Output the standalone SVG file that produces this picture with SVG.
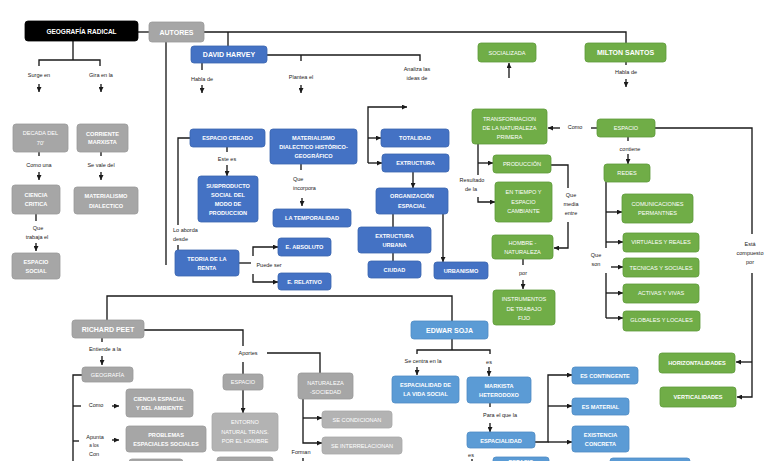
<svg xmlns="http://www.w3.org/2000/svg" width="768" height="461" viewBox="0 0 768 461">
<defs>
<style>
rect{rx:3px;ry:3px;stroke-width:0.8}
.blk rect{fill:#000;stroke:#000}
.gry rect{fill:#A6A6A6;stroke:#9A9A9A}
.gryl rect{fill:#B3B3B3;stroke:#A8A8A8}
.blu rect{fill:#4472C4;stroke:#3A64AE}
.sky rect{fill:#5B9BD5;stroke:#4F8BC4}
.grn rect{fill:#70AD47;stroke:#5E9A3A}
text{font-family:"Liberation Sans",Arial,sans-serif;text-anchor:middle;dominant-baseline:central}
.n text{font-size:5.6px;font-weight:bold;fill:#fff}
.n text.rg{font-weight:normal}
.n text.h{font-size:7px}
.n text.g{font-size:6.5px}
.lbl text{font-size:5.5px;fill:#1a1a1a}
.lbl text.s{font-size:4.5px}
.lbl text.l{text-anchor:start}
#connectors path{fill:none;stroke:#1a1a1a;stroke-width:1.35}
#connectors path.a{marker-end:url(#ah)}
</style>
<marker id="ah" viewBox="0 0 10 10" refX="10" refY="5" markerUnits="userSpaceOnUse" markerWidth="5" markerHeight="5" orient="auto">
<path d="M0,0 L10,5 L0,10 z" fill="#1a1a1a"/>
</marker>
</defs>
<rect x="0" y="0" width="768" height="461" fill="#fff" style="rx:0;stroke:none"/>

<g id="connectors">
<path d="M138,32 H149"/>
<path d="M204,32 H626 V43"/>
<path d="M228,32 V46"/>
<path d="M166,42 V265"/>
<path d="M73,41 V60 M39,66 V60 H100 V66"/>
<path class="a" d="M39,84 V92"/>
<path class="a" d="M101,84 V92"/>
<path d="M39,152 V156"/>
<path class="a" d="M39,172 V180"/>
<path d="M101,152 V156"/>
<path class="a" d="M101,172 V180"/>
<path d="M36,214 V221"/>
<path class="a" d="M36,243 V251"/>
<path d="M202,63 V70"/>
<path class="a" d="M202,85 V93"/>
<path d="M267,55 H420 V61 M301,55 V61"/>
<path class="a" d="M301,85 V93"/>
<path class="a" d="M368,163 V107 H407"/>
<path class="a" d="M368,138 H381"/>
<path class="a" d="M368,163 H382"/>
<path class="a" d="M413,172 V188"/>
<path d="M393,214 V227"/>
<path d="M393,253 V261"/>
<path class="a" d="M443,214 V262"/>
<path d="M190,138 H178 V225 M178,245 V250"/>
<path d="M227,147 V152"/>
<path class="a" d="M227,165 V176"/>
<path d="M239,263 H251"/>
<path class="a" d="M253,256 V247 H278"/>
<path class="a" d="M253,274 V282 H278"/>
<path d="M301,164 V170"/>
<path class="a" d="M302,198 V206"/>
<path d="M626,62 V65"/>
<path class="a" d="M626,79 V87"/>
<path class="a" d="M509,78 V63"/>
<path d="M655,128 H752 V234"/>
<path class="a" d="M752,273 V397 H737"/>
<path class="a" d="M752,362 H736"/>
<path d="M597,128 H591"/>
<path class="a" d="M560,128 H548"/>
<path d="M628,137 V141"/>
<path class="a" d="M628,154 V164"/>
<path d="M478,144 V175"/>
<path class="a" d="M478,163 H493"/>
<path class="a" d="M478,197 V202 H495"/>
<path d="M551,165 H568 V188"/>
<path class="a" d="M568,222 V248 H554"/>
<path d="M523,259 V265"/>
<path class="a" d="M523,280 V289"/>
<path d="M606,182 V248 M606,273 V318"/>
<path class="a" d="M606,212 H622"/>
<path class="a" d="M606,242 H623"/>
<path class="a" d="M611,267 H623"/>
<path class="a" d="M606,293 H623"/>
<path class="a" d="M606,318 H623"/>
<path d="M107,320 V296 H452 V321"/>
<path d="M144,330 H243 V346 M243,362 V374"/>
<path d="M267,353 H320 V373"/>
<path class="a" d="M243,390 V413"/>
<path class="a" d="M303,399 V443 H322"/>
<path class="a" d="M303,418 H322"/>
<path d="M303,458 V466"/>
<path d="M102,338 V342"/>
<path class="a" d="M102,356 V365"/>
<path d="M82,375 H73 V470"/>
<path d="M73,406 H81"/>
<path class="a" d="M112,406 H119"/>
<path d="M73,441 H79"/>
<path class="a" d="M112,440 H119"/>
<path d="M452,339 V350 M417,354 V350 H490 V354"/>
<path class="a" d="M417,367 V375"/>
<path class="a" d="M489,367 V376"/>
<path d="M490,403 V407"/>
<path class="a" d="M490,423 V432"/>
<path class="a" d="M535,442 H548 V375 H572"/>
<path class="a" d="M548,406 H572"/>
<path class="a" d="M548,442 H572"/>
<path d="M472,459 V466"/>
</g>

<g id="labels" class="lbl">
<text x="39" y="75">Surge en</text>
<text x="101" y="75">Gira en la</text>
<text x="39" y="165">Como una</text>
<text x="101" y="165">Se vale del</text>
<text x="38" y="228">Que</text>
<text x="37" y="237">trabaja el</text>
<text x="202" y="79">Habla de</text>
<text x="301" y="77">Plantea el</text>
<text x="417" y="69">Analiza las</text>
<text x="417" y="78">ideas de</text>
<text class="l" x="173" y="230">Lo aborda</text>
<text class="l" x="173" y="239">desde</text>
<text x="227" y="159">Este es</text>
<text x="269" y="265">Puede ser</text>
<text class="l" x="293" y="179">Que</text>
<text class="l" x="293" y="188">incorpora</text>
<text x="626" y="72">Habla de</text>
<text x="575" y="127">Como</text>
<text x="630" y="149">contiene</text>
<text x="472" y="180">Resultado</text>
<text x="471" y="189">de la</text>
<text x="571" y="195">Que</text>
<text x="571" y="204">media</text>
<text x="571" y="213">entre</text>
<text x="523" y="273">por</text>
<text x="596" y="255">Que</text>
<text x="596" y="264">son</text>
<text x="750" y="244">Está</text>
<text x="750" y="253">compuesto</text>
<text x="750" y="262">por</text>
<text x="105" y="349">Entiende a la</text>
<text x="96" y="405">Como</text>
<text x="95" y="437">Apunta</text>
<text class="s" x="94" y="445">a los</text>
<text x="94" y="454">Con</text>
<text x="248" y="353">Aportes</text>
<text x="301" y="452">Forman</text>
<text x="423" y="361">Se centra en la</text>
<text x="489" y="362">es</text>
<text x="500" y="415">Para el que la</text>
<text x="471" y="455">es</text>
</g>

<g id="geografia-radical" class="n blk"><rect x="25" y="21" width="113" height="20"/><text class="g" x="81.5" y="31.5">GEOGRAFÍA RADICAL</text></g>
<g id="autores" class="n gry"><rect x="149" y="22" width="55" height="20"/><text class="h" x="176.5" y="32">AUTORES</text></g>
<g id="decada" class="n gry"><rect x="13" y="124" width="55" height="28"/><text class="rg" x="40.5" y="133">DECADA DEL</text><text class="rg" x="40.5" y="143">70'</text></g>
<g id="corriente-marxista" class="n gry"><rect x="77" y="124" width="51" height="28"/><text x="102.5" y="134">CORRIENTE</text><text x="102.5" y="142">MARXISTA</text></g>
<g id="ciencia-critica" class="n gry"><rect x="12" y="185" width="48" height="29"/><text x="36" y="195">CIENCIA</text><text x="36" y="204">CRITICA</text></g>
<g id="materialismo-dialectico" class="n gry"><rect x="74" y="187" width="64" height="27"/><text x="106" y="196">MATERIALISMO</text><text x="106" y="206">DIALECTICO</text></g>
<g id="espacio-social" class="n gry"><rect x="12" y="253" width="48" height="26"/><text x="36" y="262">ESPACIO</text><text x="36" y="271">SOCIAL</text></g>

<g id="david-harvey" class="n blu"><rect x="191" y="46" width="76" height="17"/><text class="h" x="229" y="54.5">DAVID HARVEY</text></g>
<g id="espacio-creado" class="n blu"><rect x="190" y="129" width="75" height="18"/><text x="227.5" y="138">ESPACIO CREADO</text></g>
<g id="subproducto" class="n blu"><rect x="198" y="176" width="60" height="46"/><text x="228" y="186">SUBPRODUCTO</text><text x="228" y="195">SOCIAL DEL</text><text x="228" y="204">MODO DE</text><text x="228" y="213">PRODUCCION</text></g>
<g id="teoria-renta" class="n blu"><rect x="175" y="250" width="64" height="26"/><text x="207" y="259">TEORIA DE LA</text><text x="207" y="268">RENTA</text></g>
<g id="e-absoluto" class="n blu"><rect x="278" y="238" width="53" height="18"/><text x="304.5" y="247">E. ABSOLUTO</text></g>
<g id="e-relativo" class="n blu"><rect x="278" y="273" width="53" height="17"/><text x="304.5" y="281.5">E. RELATIVO</text></g>
<g id="materialismo-hg" class="n blu"><rect x="270" y="129" width="87" height="35"/><text x="313.5" y="138">MATERIALISMO</text><text x="313.5" y="147">DIALECTICO HISTÓRICO-</text><text x="313.5" y="156">GEOGRÁFICO</text></g>
<g id="temporalidad" class="n blu"><rect x="273" y="209" width="78" height="18"/><text x="312" y="218">LA TEMPORALIDAD</text></g>
<g id="totalidad" class="n blu"><rect x="381" y="129" width="68" height="18"/><text x="415" y="138">TOTALIDAD</text></g>
<g id="extructura" class="n blu"><rect x="382" y="154" width="67" height="18"/><text x="415.5" y="163">EXTRUCTURA</text></g>
<g id="organizacion-espacial" class="n blu"><rect x="376" y="188" width="72" height="26"/><text x="412" y="196">ORGANIZACIÓN</text><text x="412" y="206">ESPACIAL</text></g>
<g id="extructura-urbana" class="n blu"><rect x="358" y="227" width="73" height="26"/><text x="394.5" y="236">EXTRUCTURA</text><text x="394.5" y="245">URBANA</text></g>
<g id="ciudad" class="n blu"><rect x="368" y="261" width="53" height="17"/><text x="394.5" y="269.5">CIUDAD</text></g>
<g id="urbanismo" class="n blu"><rect x="434" y="262" width="54" height="17"/><text x="461" y="270.5">URBANISMO</text></g>

<g id="milton-santos" class="n grn"><rect x="585" y="43" width="81" height="19"/><text class="h" x="625.5" y="52.5">MILTON SANTOS</text></g>
<g id="socializada" class="n grn"><rect x="478" y="43" width="58" height="19"/><text class="rg" x="507" y="52.5">SOCIALIZADA</text></g>
<g id="espacio-ms" class="n grn"><rect x="597" y="119" width="58" height="18"/><text class="rg" x="626" y="128">ESPACIO</text></g>
<g id="transformacion" class="n grn"><rect x="472" y="109" width="75" height="35"/><text class="rg" x="509.5" y="118.5">TRANSFORMACION</text><text class="rg" x="509.5" y="128">DE LA NATURALEZA</text><text class="rg" x="509.5" y="137">PRIMERA</text></g>
<g id="produccion" class="n grn"><rect x="493" y="155" width="58" height="18"/><text class="rg" x="522" y="164">PRODUCCIÓN</text></g>
<g id="en-tiempo" class="n grn"><rect x="495" y="182" width="57" height="40"/><text class="rg" x="523.5" y="192">EN TIEMPO Y</text><text class="rg" x="523.5" y="202">ESPACIO</text><text class="rg" x="523.5" y="211">CAMBIANTE</text></g>
<g id="hombre-naturaleza" class="n grn"><rect x="492" y="235" width="61" height="24"/><text class="rg" x="522.5" y="243">HOMBRE -</text><text class="rg" x="522.5" y="252">NATURALEZA</text></g>
<g id="instrumentos" class="n grn"><rect x="493" y="290" width="62" height="35"/><text class="rg" x="524" y="299">INSTRUMENTOS</text><text class="rg" x="524" y="308.5">DE TRABAJO</text><text class="rg" x="524" y="318">FIJO</text></g>
<g id="redes" class="n grn"><rect x="604" y="164" width="46" height="18"/><text class="rg" x="627" y="173">REDES</text></g>
<g id="comunicaciones" class="n grn"><rect x="622" y="194" width="71" height="29"/><text class="rg" x="657.5" y="203.5">COMUNICACIONES</text><text class="rg" x="657.5" y="212.5">PERMANTNES</text></g>
<g id="virtuales" class="n grn"><rect x="623" y="233" width="76" height="19"/><text class="rg" x="661" y="242">VIRTUALES Y REALES</text></g>
<g id="tecnicas" class="n grn"><rect x="623" y="258" width="76" height="19"/><text class="rg" x="661" y="267.5">TECNICAS Y SOCIALES</text></g>
<g id="activas" class="n grn"><rect x="623" y="284" width="76" height="19"/><text class="rg" x="661" y="293">ACTIVAS Y VIVAS</text></g>
<g id="globales" class="n grn"><rect x="623" y="311" width="77" height="20"/><text class="rg" x="661.5" y="320">GLOBALES Y LOCALES</text></g>
<g id="horizontalidades" class="n grn"><rect x="659" y="353" width="76" height="20"/><text x="697" y="363">HORIZONTALIDADES</text></g>
<g id="verticalidades" class="n grn"><rect x="660" y="387" width="76" height="20"/><text x="698" y="397">VERTICALIDADES</text></g>

<g id="richard-peet" class="n gry"><rect x="72" y="320" width="72" height="18"/><text class="h" x="108" y="329.5">RICHARD PEET</text></g>
<g id="geografia" class="n gry"><rect x="82" y="367" width="51" height="15"/><text class="rg" x="107.5" y="375">GEOGRAFÍA</text></g>
<g id="ciencia-espacial" class="n gry"><rect x="126" y="389" width="67" height="28"/><text x="159.5" y="398.5">CIENCIA ESPACIAL</text><text x="159.5" y="407.5">Y DEL AMBIENTE</text></g>
<g id="problemas" class="n gry"><rect x="126" y="426" width="80" height="26"/><text x="166" y="435">PROBLEMAS</text><text x="166" y="444">ESPACIALES SOCIALES</text></g>
<g id="gris-inferior-1" class="n gry"><rect x="129" y="459" width="54" height="14"/></g>
<g id="espacio-rp" class="n gry"><rect x="223" y="374" width="40" height="16"/><text class="rg" x="243" y="382">ESPACIO</text></g>
<g id="entorno" class="n gryl"><rect x="212" y="413" width="66" height="38"/><text class="rg" x="245" y="422">ENTORNO</text><text class="rg" x="245" y="431.5">NATURAL TRANS.</text><text class="rg" x="245" y="441">POR EL HOMBRE</text></g>
<g id="gris-inferior-2" class="n gry"><rect x="217" y="457" width="56" height="14"/></g>
<g id="naturaleza-sociedad" class="n gry"><rect x="298" y="373" width="55" height="26"/><text class="rg" x="325.5" y="383">NATURALEZA</text><text class="rg" x="325.5" y="392">-SOCIEDAD</text></g>
<g id="se-condicionan" class="n gryl"><rect x="322" y="411" width="70" height="17"/><text class="rg" x="357" y="419.5">SE CONDICIONAN</text></g>
<g id="se-interrelacionan" class="n gryl"><rect x="322" y="437" width="80" height="17"/><text class="rg" x="362" y="445.5">SE INTERRELACIONAN</text></g>

<g id="edwar-soja" class="n sky"><rect x="411" y="321" width="77" height="18"/><text class="h" x="449.5" y="330">EDWAR SOJA</text></g>
<g id="espacialidad-vida" class="n sky"><rect x="392" y="376" width="67" height="27"/><text x="425.5" y="385">ESPACIALIDAD DE</text><text x="425.5" y="394">LA VIDA SOCIAL</text></g>
<g id="markista" class="n sky"><rect x="467" y="377" width="64" height="26"/><text x="499" y="386">MARKISTA</text><text x="499" y="395">HETERODOXO</text></g>
<g id="espacialidad" class="n sky"><rect x="467" y="432" width="68" height="16"/><text x="501" y="440.5">ESPACIALIDAD</text></g>
<g id="es-contingente" class="n sky"><rect x="572" y="367" width="66" height="17"/><text x="605" y="375.5">ES CONTINGENTE</text></g>
<g id="es-material" class="n sky"><rect x="572" y="398" width="57" height="17"/><text x="600.5" y="406.5">ES MATERIAL</text></g>
<g id="existencia" class="n sky"><rect x="572" y="426" width="57" height="26"/><text x="600.5" y="434.5">EXISTENCIA</text><text x="600.5" y="443.5">CONCRETA</text></g>
<g id="espacio-soja" class="n sky"><rect x="493" y="457" width="56" height="14"/><text x="521" y="462">ESPACIO</text></g>
<g id="azul-inferior" class="n sky"><rect x="610" y="458" width="80" height="14"/></g>
</svg>
